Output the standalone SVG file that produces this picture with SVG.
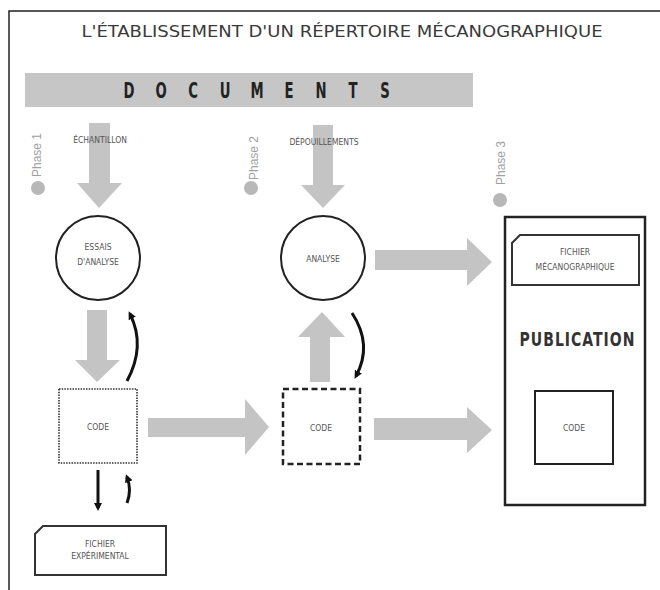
<svg xmlns="http://www.w3.org/2000/svg" width="660" height="590" viewBox="0 0 660 590">
<defs>
<marker id="ah" markerWidth="8" markerHeight="8" refX="5" refY="4" orient="auto" markerUnits="userSpaceOnUse">
<path d="M0,0 L8,4 L0,8 Z" fill="#111"/>
</marker>
<style>
.lbl{font-family:"DejaVu Sans Condensed","DejaVu Sans",sans-serif;font-size:8.5px;fill:#555;text-anchor:middle}
.ph{font-family:"Liberation Sans",Arial,sans-serif;font-size:12px;fill:#a0a0a0}
.dot{fill:#b8b8b8}
.garrow{fill:#c4c4c4}
.circ{fill:#fff;stroke:#222;stroke-width:2}
.card{fill:#fff;stroke:#333;stroke-width:2}
.curve{fill:none;stroke:#111;stroke-width:3;marker-end:url(#ah)}
.doc{font-family:"DejaVu Sans Condensed","DejaVu Sans",sans-serif;font-size:21px;font-weight:bold;fill:#222;text-anchor:middle}
</style>
</defs>
<rect width="660" height="590" fill="#fff"/>
<path d="M9,590 V11 H660" fill="none" stroke="#222" stroke-width="1.5"/>
<text x="342" y="37" text-anchor="middle" font-family="DejaVu Sans Condensed,DejaVu Sans,sans-serif" font-size="16" fill="#3a3a3a" textLength="521" lengthAdjust="spacingAndGlyphs">L'ÉTABLISSEMENT D'UN RÉPERTOIRE MÉCANOGRAPHIQUE</text>
<g id="documents">
<rect x="25" y="73" width="448" height="34" fill="#c6c6c6"/>
<text class="doc" transform="translate(129,98) scale(0.7,1)">D</text>
<text class="doc" transform="translate(161,98) scale(0.7,1)">O</text>
<text class="doc" transform="translate(193,98) scale(0.7,1)">C</text>
<text class="doc" transform="translate(225,98) scale(0.7,1)">U</text>
<text class="doc" transform="translate(257,98) scale(0.7,1)">M</text>
<text class="doc" transform="translate(289,98) scale(0.7,1)">E</text>
<text class="doc" transform="translate(321,98) scale(0.7,1)">N</text>
<text class="doc" transform="translate(353,98) scale(0.7,1)">T</text>
<text class="doc" transform="translate(385,98) scale(0.7,1)">S</text>
</g>
<g id="phase1"><text class="ph" transform="translate(41,177) rotate(-90)">Phase 1</text><circle class="dot" cx="38" cy="188" r="7"/></g>
<g id="phase2"><text class="ph" transform="translate(258,180) rotate(-90)">Phase 2</text><circle class="dot" cx="251" cy="188" r="7"/></g>
<g id="phase3"><text class="ph" transform="translate(505,185) rotate(-90)">Phase 3</text><circle class="dot" cx="500" cy="200" r="7"/></g>
<g id="connectors">
<polygon class="garrow" points="89,123 110,123 110,183 122,183 99,208 77,183 89,183"/>
<polygon class="garrow" points="313,125 333,125 333,185 345,185 323,208 301,185 313,185"/>
<polygon class="garrow" points="87,310 107,310 107,360 120,360 97,382 75,360 87,360"/>
<polygon class="garrow" points="310,382 330,382 330,337 345,337 322,312 298,337 310,337"/>
<polygon class="garrow" points="375,250 467,250 467,238 492,262 467,286 467,270 375,270"/>
<polygon class="garrow" points="374,418 467,418 467,407 492,430 467,453 467,440 374,440"/>
<polygon class="garrow" points="148,418 245,418 245,399 269,427 245,455 245,437 148,437"/>
<path class="curve" d="M127,381 Q146,346 130,314"/>
<path class="curve" d="M352,313 Q373,345 356,376"/>
<path class="curve" d="M98,470 V508"/>
<path class="curve" d="M127,503 Q132,490 127,477"/>
</g>
<g id="echantillon"><text class="lbl" x="100" y="143">ÉCHANTILLON</text></g>
<g id="depouillements"><text class="lbl" x="324" y="145">DÉPOUILLEMENTS</text></g>
<g id="essais"><circle class="circ" cx="98" cy="258" r="42"/><text class="lbl" x="98" y="250">ESSAIS</text><text class="lbl" x="98" y="265">D'ANALYSE</text></g>
<g id="analyse"><circle class="circ" cx="323" cy="258" r="42"/><text class="lbl" x="323" y="262">ANALYSE</text></g>
<g id="code1"><rect x="59" y="389" width="78" height="74" fill="#fff" stroke="#333" stroke-width="1.6" stroke-dasharray="1.5 1.2"/><text class="lbl" x="98" y="430">CODE</text></g>
<g id="code2"><rect x="283" y="389" width="77" height="75" fill="#fff" stroke="#222" stroke-width="2.5" stroke-dasharray="6 3.5"/><text class="lbl" x="321" y="431">CODE</text></g>
<g id="fichier-exp"><path class="card" d="M43,526 H166 V575 H35 V534 Z"/><text class="lbl" x="100" y="547">FICHIER</text><text class="lbl" x="100" y="559">EXPÉRIMENTAL</text></g>
<g id="publication">
<rect x="505" y="217" width="140" height="288" fill="#fff" stroke="#222" stroke-width="2.5"/>
<text x="577" y="346" text-anchor="middle" font-family="DejaVu Sans Condensed,DejaVu Sans,sans-serif" font-size="19" font-weight="bold" fill="#333" textLength="140" lengthAdjust="spacing" transform="translate(577,0) scale(0.82,1) translate(-577,0)">PUBLICATION</text>
</g>
<g id="fichier-meca"><path class="card" d="M520,235 H639 V285 H512 V243 Z"/><text class="lbl" x="575" y="255">FICHIER</text><text class="lbl" x="575" y="270">MÉCANOGRAPHIQUE</text></g>
<g id="code3"><rect x="535" y="391" width="78" height="73" fill="#fff" stroke="#222" stroke-width="2"/><text class="lbl" x="574" y="431">CODE</text></g>
</svg>
